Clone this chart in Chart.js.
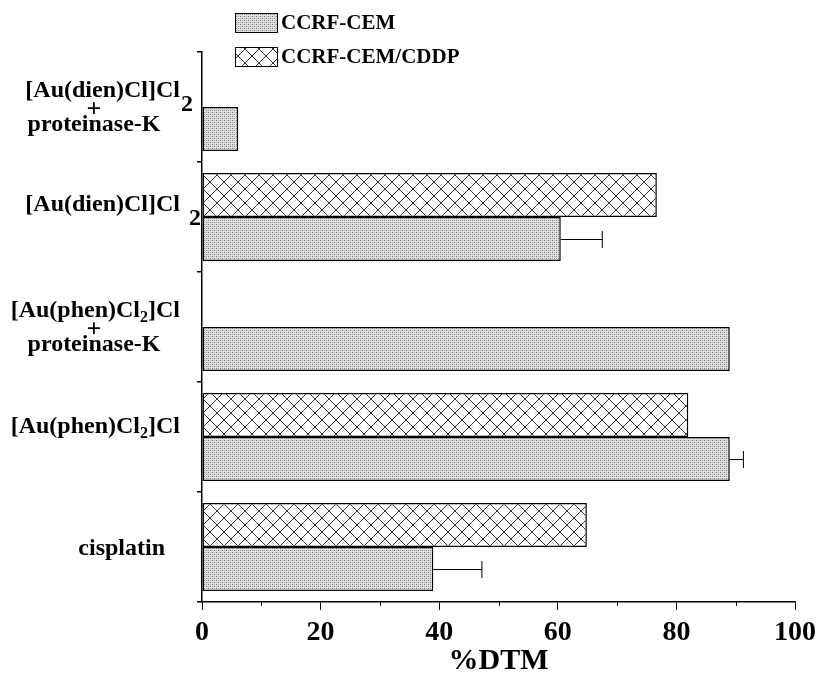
<!DOCTYPE html>
<html>
<head>
<meta charset="utf-8">
<script src="https://cdn.jsdelivr.net/npm/chart.js@4/dist/chart.umd.min.js"></script>
<style>
    html, body { margin: 0; padding: 0; background: #fff; }
</style>
</head>
<body>
<canvas id="main" width="817" height="679"></canvas>
<script>
// data
const categories = ['[Au(dien)Cl]Cl2 + proteinase-K', '[Au(dien)Cl]Cl2', '[Au(phen)Cl2]Cl + proteinase-K', '[Au(phen)Cl2]Cl', 'cisplatin']
const seriesNames = ['CCRF-CEM', 'CCRF-CEM/CDDP']
const cemValues = [6.1, 60.5, 89.0, 89.0, 39.0]
const cemErrors = [null, 7.0, null, 2.3, 8.2]
const cddpValues = [null, 76.7, null, 82.0, 64.9]
const xMin = 0
const xMax = 100

const FONT = '"Liberation Serif", "Times New Roman", serif'
const canvas = document.querySelector('#main')
const ctx = canvas.getContext('2d')

// fill patterns
function stipple() {
    const c = document.createElement('canvas')
    c.width = 4; c.height = 4
    const g = c.getContext('2d')
    g.fillStyle = '#e0e0e0'
    g.fillRect(0, 0, 4, 4)
    g.fillStyle = '#777'
    g.fillRect(0, 0, 1, 1)
    g.fillRect(2, 2, 1, 1)
    g.fillStyle = '#aaa'
    g.fillRect(2, 0, 1, 1)
    g.fillRect(0, 2, 1, 1)
    return ctx.createPattern(c, 'repeat')
}
function crosshatch() {
    const s = 14
    const c = document.createElement('canvas')
    c.width = s; c.height = s
    const g = c.getContext('2d')
    g.fillStyle = '#fff'
    g.fillRect(0, 0, s, s)
    g.strokeStyle = '#333'
    g.lineWidth = 1
    g.beginPath()
    g.moveTo(0, 0); g.lineTo(s, s)
    g.moveTo(s, 0); g.lineTo(0, s)
    g.stroke()
    return ctx.createPattern(c, 'repeat')
}
const grayFill = stipple()
const hatchFill = crosshatch()

// label layout (text pieces, true = subscript)
const labelLayout = [
    [{ runs: [['[Au(dien)Cl]Cl']], x: 180, dy: -16, align: 'right' },
     { runs: [['2']], x: 187, dy: -2, align: 'center' },
     { runs: [['+']], x: 94, dy: 3, align: 'center', size: 26 },
     { runs: [['proteinase-K']], x: 94, dy: 18, align: 'center' }],
    [{ runs: [['[Au(dien)Cl]Cl']], x: 180, dy: -12, align: 'right' },
     { runs: [['2']], x: 195, dy: 2, align: 'center' }],
    [{ runs: [['[Au(phen)Cl'], ['2', true], [']Cl']], x: 180, dy: -16, align: 'right' },
     { runs: [['+']], x: 94, dy: 3, align: 'center', size: 26 },
     { runs: [['proteinase-K']], x: 94, dy: 18, align: 'center' }],
    [{ runs: [['[Au(phen)Cl'], ['2', true], [']Cl']], x: 180, dy: -10, align: 'right' }],
    [{ runs: [['cisplatin']], x: 165, dy: 2, align: 'right' }]
]

function drawRuns(g, item, cy) {
    const main = 'bold ' + (item.size || 24) + 'px ' + FONT
    const sub = 'bold 16px ' + FONT
    let total = 0
    item.runs.forEach(r => {
        g.font = r[1] ? sub : main
        total += g.measureText(r[0]).width
    })
    let x = item.align === 'right' ? item.x - total : item.align === 'center' ? item.x - total / 2 : item.x
    g.textAlign = 'left'
    g.textBaseline = 'middle'
    item.runs.forEach(r => {
        g.font = r[1] ? sub : main
        g.fillText(r[0], x, cy + item.dy + (r[1] ? 7 : 0))
        x += g.measureText(r[0]).width
    })
}

const extras = {
    id: 'extras',
    afterDraw(chart) {
        const g = chart.ctx
        const xs = chart.scales.x
        const ys = chart.scales.y
        g.save()
        g.fillStyle = '#000'
        g.strokeStyle = '#000'

        // minor ticks on x axis
        g.lineWidth = 1
        for (let v = xMin + 10; v < xMax; v += 20) {
            const px = Math.round(xs.getPixelForValue(v)) + 0.5
            g.beginPath()
            g.moveTo(px, xs.top)
            g.lineTo(px, xs.top + 4)
            g.stroke()
        }

        // error bars (positive side only)
        const meta = chart.getDatasetMeta(1)
        meta.data.forEach((bar, i) => {
            const e = cemErrors[i]
            if (e == null) return
            const x0 = bar.x
            const x1 = xs.getPixelForValue(cemValues[i] + e)
            const y = Math.round(bar.y) + 0.5
            g.lineWidth = 1
            g.beginPath()
            g.moveTo(x0, y); g.lineTo(x1, y)
            g.moveTo(x1, y - 8.5); g.lineTo(x1, y + 8.5)
            g.stroke()
        })

        // category labels
        labelLayout.forEach((items, i) => {
            const cy = ys.getPixelForValue(i)
            items.forEach(item => drawRuns(g, item, cy))
        })

        // legend
        const fills = [grayFill, hatchFill]
        const rows = [13, 47]
        seriesNames.forEach((name, i) => {
            g.fillStyle = fills[i]
            g.fillRect(235, rows[i], 42, 19)
            g.lineWidth = 1
            g.strokeStyle = '#000'
            g.strokeRect(235.5, rows[i] + 0.5, 42, 19)
            g.fillStyle = '#000'
            g.font = 'bold 21px ' + FONT
            g.textAlign = 'left'
            g.textBaseline = 'middle'
            g.fillText(name, 281, rows[i] + 11)
        })
        g.restore()
    }
}

new Chart(ctx, {
    type: 'bar',
    data: {
        labels: categories,
        datasets: [{
            label: seriesNames[1],
            data: cddpValues,
            backgroundColor: hatchFill,
            borderColor: '#000',
            borderWidth: 1.5,
            borderSkipped: false
        }, {
            label: seriesNames[0],
            data: cemValues,
            backgroundColor: grayFill,
            borderColor: '#000',
            borderWidth: 1.5,
            borderSkipped: false
        }]
    },
    options: {
        indexAxis: 'y',
        responsive: false,
        animation: false,
        devicePixelRatio: 1,
        categoryPercentage: 0.8,
        barPercentage: 1.0,
        layout: { padding: { top: 52, right: 0, left: 0, bottom: 0 } },
        plugins: {
            legend: { display: false },
            tooltip: { enabled: false }
        },
        scales: {
            x: {
                min: xMin,
                max: xMax,
                afterFit(scale) {
                    scale.height = 77
                    scale.paddingLeft = 0
                    scale.paddingRight = 22
                },
                ticks: {
                    stepSize: 20,
                    color: '#000',
                    padding: 6,
                    maxRotation: 0,
                    font: { family: FONT, size: 28, weight: 'bold' }
                },
                grid: { drawOnChartArea: false, drawTicks: true, tickLength: 8, color: '#000', lineWidth: 1 },
                border: { display: true, color: '#000', width: 1.5 },
                title: {
                    display: true,
                    text: '%DTM',
                    color: '#000',
                    padding: { top: 0, bottom: 0 },
                    font: { family: FONT, size: 30, weight: 'bold' }
                }
            },
            y: {
                afterFit(scale) { scale.width = 202 },
                ticks: { display: false },
                grid: { drawOnChartArea: false, drawTicks: true, tickLength: 5, color: '#000', lineWidth: 1.5, offset: true },
                border: { display: true, color: '#000', width: 1.5 }
            }
        }
    },
    plugins: [extras]
})
</script>
</body>
</html>
